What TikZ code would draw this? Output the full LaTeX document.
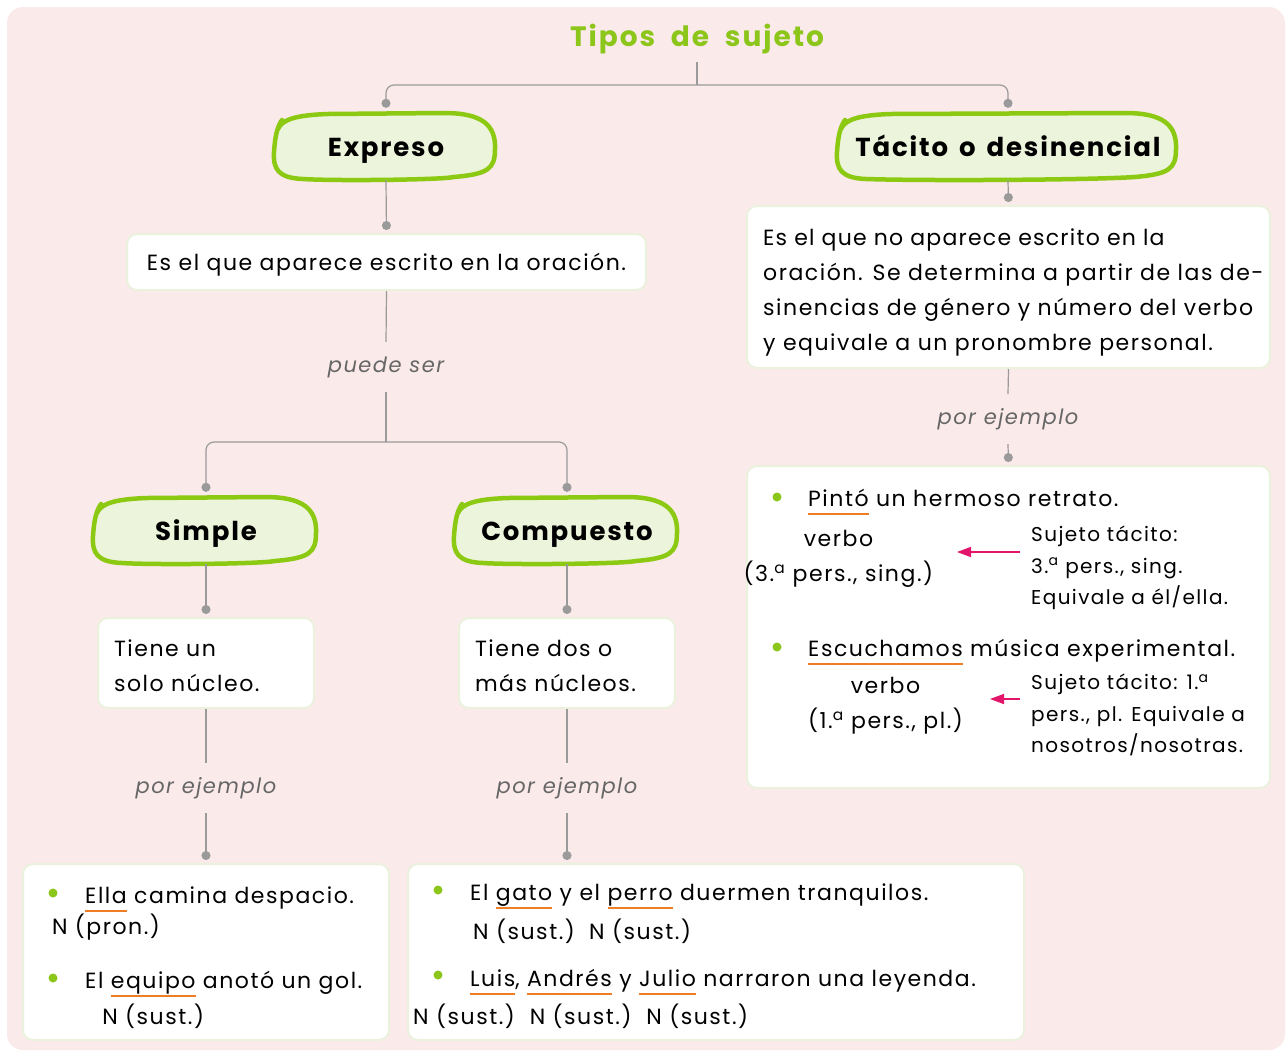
\documentclass[tikz,border=0pt]{standalone}
\usepackage{fontspec}
\setmainfont{Poppins}[LetterSpace=7]
\usetikzlibrary{%
  positioning
 ,arrows.meta
 ,calc
}
\definecolor{bgpink}{HTML}{FBEAEA}
\definecolor{boxline}{HTML}{EAF2DE}
\definecolor{titgreen}{HTML}{8CC61A}
\definecolor{blobgreen}{HTML}{8CC912}
\definecolor{blobfill}{HTML}{ECF4DB}
\definecolor{linegray}{HTML}{9A9A9A}
\definecolor{labgray}{HTML}{666666}
\definecolor{orangeul}{HTML}{EE7D26}
\definecolor{magarrow}{HTML}{E2156B}
\tikzstyle{box}=[draw=boxline,fill=white,line width=2pt,rounded corners=10pt,inner sep=0pt]
\tikzstyle{txt}=[font=\fontsize{22}{35}\selectfont,inner sep=0pt]
\tikzstyle{note}=[font=\fontsize{20}{31.5}\selectfont,inner sep=0pt,align=left]
\tikzstyle{lab}=[font=\fontsize{21}{25}\selectfont\itshape,text=labgray,minimum height=50pt,inner sep=0pt]
\tikzstyle{ln}=[draw=linegray,line width=1.2pt]
\tikzstyle{con}=[ln,-{Circle[length=9pt]},shorten >=3pt]
\tikzstyle{blobline}=[draw=blobgreen,fill=blobfill,line width=4.5pt,line cap=round,line join=round]
\tikzstyle{blobtxt}=[font=\fontsize{26}{30}\selectfont\bfseries,minimum height=66pt,inner sep=0pt,text height=19pt,text depth=0pt]
\tikzstyle{flecha}=[draw=magarrow,line width=1.5pt,-{Triangle[length=14pt,width=10pt]}]
\newsavebox\nucbox
\newcommand\nuc[3][36pt]{\sbox\nucbox{#2}%
  \rlap{\textcolor{orangeul}{\rule[-9pt]{\wd\nucbox}{2.5pt}}}%
  \rlap{\raisebox{-#1}[0pt][0pt]{\makebox[\wd\nucbox]{\begin{tabular}[t]{@{}c@{}}#3\end{tabular}}}}%
  \usebox\nucbox}
\newcommand\blob[5]{%
  \draw[blobline] ({#2-#4},{#3-18}) .. controls ({#2-#4+4},{#3-28}) and ({#2-#4+20},{#3-32}) .. ({#2-#4+50},{#3-33})
    -- ({#2+#4-50},{#3-34}) .. controls ({#2+#4-12},{#3-34}) and ({#2+#4+2},{#3-22}) .. ({#2+#4+1},{#3+2})
    .. controls ({#2+#4+1},{#3+22}) and ({#2+#4-6},{#3+27}) .. ({#2+#4-40},{#3+30})
    .. controls ({#2+#4/2},{#3+33}) and ({#2-#4/2},{#3+34}) .. ({#2-#4+25},{#3+32})
    .. controls ({#2-#4},{#3+31}) and ({#2-#4-5},{#3+22}) .. ({#2-#4-4},{#3+5})
    .. controls ({#2-#4-3},{#3-10}) and ({#2-#4-1},{#3-20}) .. ({#2-#4+4},{#3-27});
  \node[blobtxt,minimum width={2*#4}] (#1) at (#2,#3) {#5};
}

\begin{document}
\begin{tikzpicture}[x=1pt,y=-1pt]
  \useasboundingbox (0,0) rectangle (1288,1053);
  \fill[bgpink,rounded corners=16pt] (7,7) rectangle (1285,1050);
  \node[font=\fontsize{28}{32}\selectfont\bfseries,text=titgreen,minimum height=46pt,inner sep=0pt] (t_0) at (697,39) {Tipos\ \ de\ \ sujeto};
  \blob{n_exp}{386}{147}{108}{Expreso}
  \blob{n_tac}{1008}{147}{167}{Tácito\hspace{11pt}o\hspace{11pt}desinencial}
  \blob{n_sim}{206}{531}{109}{Simple}
  \blob{n_com}{567}{531}{109}{Compuesto}
  \node[box,txt,minimum width=519pt,minimum height=56pt,text height=16pt,text depth=0pt] (d_exp) at (386.5,262) {Es el que aparece escrito en la oración.};
  \node[box,minimum width=523pt,minimum height=162pt] (d_tac) at (1008.5,287) {};
  \node[txt,align=left,anchor=west] (d_tac_t) at (763,292) {\addfontfeatures{LetterSpace=5.6}Es el que no aparece escrito en la\\oración. Se determina a partir de las de-\\sinencias de género y número del verbo\\y equivale a un pronombre personal.};
  \node[box,txt,minimum width=216pt,minimum height=90pt,text width=184pt,align=left] (d_sim) at (206,663) {\rule{0pt}{23pt}Tiene un\\solo núcleo.};
  \node[box,txt,minimum width=216pt,minimum height=90pt,text width=184pt,align=left] (d_com) at (567,663) {\rule{0pt}{23pt}Tiene dos o\\más núcleos.};
  \node[lab] (l_1) at (386,367) {puede ser};
  \node[lab] (l_2) at (206,788) {por ejemplo};
  \node[lab] (l_3) at (567,788) {por ejemplo};
  \node[lab] (l_4) at (1008,419) {por ejemplo};
  \node[box,minimum width=366pt,minimum height=176pt] (x_sim) at (206,952) {};
  \node[box,minimum width=616pt,minimum height=176pt] (x_com) at (716,952) {};
  \node[box,minimum width=523pt,minimum height=322pt] (x_tac) at (1008.5,627) {};
  \coordinate (c_0) at (697,85);
  \coordinate (c_1) at (386,442);
  \draw[ln] (t_0.south) -- (c_0);
  \draw[con,rounded corners=8pt,shorten >=6pt] (c_0) -| (n_exp.north);
  \draw[con,rounded corners=8pt,shorten >=6pt] (c_0) -| (n_tac.north);
  \draw[con] (n_exp.south) -- (d_exp.north);
  \draw[ln] (d_exp.south) -- (l_1.north);
  \draw[ln] (l_1.south) -- (c_1);
  \draw[con,rounded corners=8pt,shorten >=6pt] (c_1) -| (n_sim.north);
  \draw[con,rounded corners=8pt,shorten >=6pt] (c_1) -| (n_com.north);
  \draw[con] (n_sim.south) -- (d_sim.north);
  \draw[con] (n_com.south) -- (d_com.north);
  \draw[ln] (d_sim.south) -- (l_2.north);
  \draw[ln] (d_com.south) -- (l_3.north);
  \draw[con] (l_2.south) -- (x_sim.north);
  \draw[con] (l_3.south) -- (l_3.south |- x_com.north);
  \draw[con] (n_tac.south) -- (d_tac.north);
  \draw[ln] (d_tac.south) -- (l_4.north);
  \draw[con] (l_4.south) -- (x_tac.north);
  \foreach \bx/\by in {53/893,53/978,438/890,438/975,777/497,777/647}
    \fill[titgreen] (\bx,\by) circle (4.5pt);
  \node[txt,anchor=base west] (e_1) at (85,903) {\nuc[31pt]{Ella}{N (pron.)} camina despacio.};
  \node[txt,anchor=base west] (e_2) at (85,988) {El \nuc{equipo}{N (sust.)} anotó un gol.};
  \node[txt,anchor=base west] (e_3) at (470,900) {El \nuc[39pt]{gato}{N (sust.)} y el \nuc[39pt]{perro}{N (sust.)} duermen tranquilos.};
  \node[txt,anchor=base west] (e_4) at (470,986) {\nuc{Luis}{}, \nuc{Andrés}{} y \nuc{Julio}{} narraron una leyenda.};
  \node[txt,anchor=base west] (e_4n) at (413,1024) {N (sust.)\ \ N (sust.)\ \ N (sust.)};
  \node[txt,anchor=base west] (e_5) at (808,506) {\nuc[40pt]{Pintó}{verbo\\(3.\textsuperscript{a} pers., sing.)} un hermoso retrato.};
  \node[txt,anchor=base west] (e_6) at (808,656) {\nuc[37pt]{Escuchamos}{verbo\\(1.\textsuperscript{a} pers., pl.)} música experimental.};
  \node[note,anchor=west] (t_1) at (1031,568) {Sujeto tácito:\\3.\textsuperscript{a} pers., sing.\\Equivale a él/ella.};
  \node[note,anchor=west] (t_2) at (1031,715) {Sujeto tácito: 1.\textsuperscript{a}\\pers., pl. Equivale a\\nosotros/nosotras.};
  \coordinate (v_1) at (957,552);
  \coordinate (v_2) at (990,699);
  \draw[flecha] ([shift={(-11,-16)}]t_1.west) -- (v_1);
  \draw[flecha] ([shift={(-11,-16)}]t_2.west) -- (v_2);
\end{tikzpicture}
\end{document}
